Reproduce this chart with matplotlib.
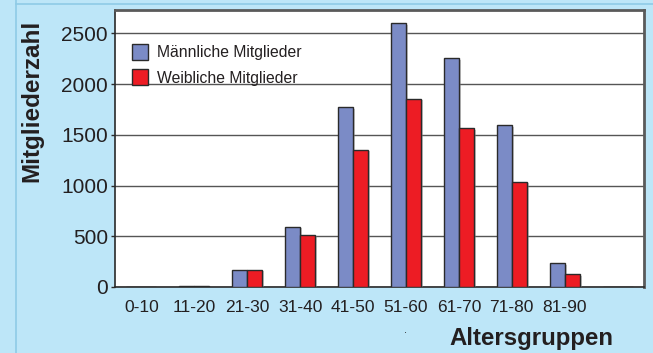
import matplotlib
matplotlib.use("Agg")
import matplotlib.pyplot as plt
import matplotlib.patheffects as pe
from matplotlib.patches import Patch
from matplotlib.lines import Line2D
import numpy as np

plt.rcParams['font.family'] = ['Liberation Sans', 'DejaVu Sans']

# Age groups (last slot is left empty) and member counts
groups = ["0-10", "11-20", "21-30", "31-40", "41-50", "51-60",
          "61-70", "71-80", "81-90", ""]
maennlich = [0, 8, 170, 595, 1770, 2600, 2255, 1595, 235, 0]
weiblich = [0, 8, 170, 515, 1350, 1855, 1565, 1035, 125, 0]
yticks = [0, 500, 1000, 1500, 2000, 2500]

BG = "#bde6f8"
BLUE = "#7b8bc6"
RED = "#ed1c24"
EDGE = "#2a2a2a"
TXT = "#231f20"

fig = plt.figure(figsize=(6.53, 3.53), dpi=100, facecolor=BG)

# panel border lines
fig.add_artist(Line2D([16/653, 16/653], [0, 1], transform=fig.transFigure,
                      color="#8fcbe6", lw=1.2))
fig.add_artist(Line2D([16/653, 1], [1 - 4/353, 1 - 4/353], transform=fig.transFigure,
                      color="#8fcbe6", lw=1.2))

ax = fig.add_axes([115/653, 66/353, 529/653, 277/353])
ax.set_facecolor("white")

x = np.arange(len(groups))
w = 0.284
shadow = [pe.SimplePatchShadow(offset=(1.5, -1.0), shadow_rgbFace="#888888", alpha=0.45),
          pe.Normal()]
ax.bar(x - w/2, maennlich, width=w, color=BLUE, edgecolor=EDGE, linewidth=1.0,
       path_effects=shadow, zorder=3, label="Männliche Mitglieder")
ax.bar(x + w/2, weiblich, width=w, color=RED, edgecolor=EDGE, linewidth=1.0,
       path_effects=shadow, zorder=3, label="Weibliche Mitglieder")

ax.set_xlim(-0.5, len(groups) - 0.5)
ax.set_ylim(0, 2730)
ax.set_yticks(yticks)
ax.set_yticklabels([str(v) for v in yticks], fontsize=15, color=TXT)
ax.set_xticks(x)
ax.set_xticklabels(groups, fontsize=12.5, color=TXT)
ax.tick_params(axis="x", length=0, pad=9)
ax.tick_params(axis="y", length=3, width=1, color=EDGE, pad=2)

ax.yaxis.grid(True, color="#555555", linewidth=1.0, zorder=0)
ax.set_axisbelow(True)

for side in ["left", "bottom"]:
    ax.spines[side].set_color(EDGE)
    ax.spines[side].set_linewidth(1.2)
for side in ["top", "right"]:
    ax.spines[side].set_color("#5a5a5a")
    ax.spines[side].set_linewidth(2.0)

fig.text(32/653, 1 - 101/353, "Mitgliederzahl", rotation=90, fontsize=17.5,
         fontweight="bold", color=TXT, ha="center", va="center")
fig.text(531/653, 1 - 338/353, "Altersgruppen", fontsize=17.3, fontweight="bold",
         color=TXT, ha="center", va="center")
fig.text(405.7/653, 1 - 330/353, ".", fontsize=8, color=TXT,
         ha="center", va="center")

handles = [Patch(facecolor=BLUE, edgecolor=EDGE, linewidth=1.0),
           Patch(facecolor=RED, edgecolor=EDGE, linewidth=1.0)]
ax.legend(handles, ["Männliche Mitglieder", "Weibliche Mitglieder"],
          loc="upper left", bbox_to_anchor=(0.006, 0.93), frameon=False,
          fontsize=11.3, handlelength=1.0, handleheight=1.2, handletextpad=0.6,
          labelspacing=0.6, labelcolor=TXT)

fig.savefig("out.png", dpi=100, facecolor=BG)
